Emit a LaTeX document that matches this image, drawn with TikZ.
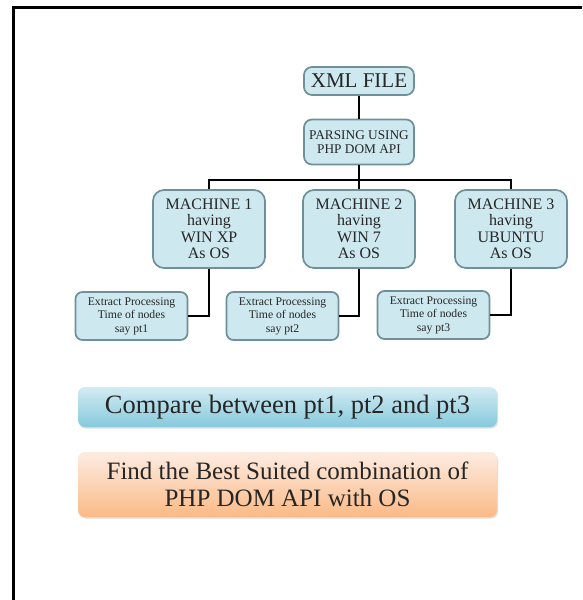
\documentclass[tikz,border=0pt]{standalone}
\usepackage{fontspec}
\setmainfont{Liberation Serif}
\usetikzlibrary{shadows}
\definecolor{boxfill}{HTML}{CDE9EF}
\definecolor{boxdraw}{HTML}{6F9098}
\definecolor{txt}{HTML}{262626}
\definecolor{cmptop}{HTML}{D2ECF3}
\definecolor{cmpbot}{HTML}{86C9DC}
\definecolor{findtop}{HTML}{FDECE2}
\definecolor{findbot}{HTML}{FBBA86}
\begin{document}
\begin{tikzpicture}[x=1pt,y=-1pt,
  box/.style={draw=boxdraw, fill=boxfill, line width=1.7pt, rounded corners=8pt,
    align=center, text=txt, inner sep=0pt},
  machbox/.style={box, minimum width=112pt, minimum height=78pt,
    rounded corners=11pt, font=\fontsize{16}{16.5}\selectfont},
  extbox/.style={box, minimum width=112pt, minimum height=48pt,
    rounded corners=7pt, font=\fontsize{11.7}{13.5}\selectfont},
  bigbox/.style={rounded corners=7pt, align=center, inner sep=0pt,
    minimum width=419pt, drop shadow={shadow xshift=1pt, shadow yshift=-1.5pt, opacity=0.25}},
  conn/.style={line width=2.8pt, black}]
\useasboundingbox (0,0) rectangle (582,600);
\fill[white] (0,0) rectangle (582,600);
\draw[line width=3pt] (13,600) -- (13,7) -- (582,7);

\node[box, minimum width=110pt, minimum height=28pt,
  font=\fontsize{21}{23}\selectfont] (xml) at (359,81) {XML FILE};
\node[box, minimum width=110pt, minimum height=45pt,
  font=\fontsize{13.3}{14.5}\selectfont] (parse) at (359,142) {PARSING USING\\PHP DOM API};

\node[machbox] (m1) at (209,229) {MACHINE 1\\having\\WIN XP\\As OS};
\node[machbox] (m2) at (359,229) {MACHINE 2\\having\\WIN 7\\As OS};
\node[machbox] (m3) at (511,229) {MACHINE 3\\having\\UBUNTU\\As OS};

\node[extbox] (e1) at (131.5,316) {Extract Processing\\Time of nodes\\say pt1};
\node[extbox] (e2) at (282.5,316) {Extract Processing\\Time of nodes\\say pt2};
\node[extbox] (e3) at (433.5,315) {Extract Processing\\Time of nodes\\say pt3};

\coordinate (bus) at (359,180);

\draw[conn] (xml) -- (parse);
\draw[conn] (parse.south) -- (m2.north);
\draw[conn] (m1.north) |- (bus) -| (m3.north);
\draw[conn] (m1.south) |- (e1.east);
\draw[conn] (m2.south) |- (e2.east);
\draw[conn] (m3.south) |- (e3.east);

\node[bigbox, minimum height=40pt, top color=cmptop, bottom color=cmpbot,
  text=txt, font=\fontsize{26.5}{28}\selectfont] (cmp) at (287.5,407)
  {Compare between pt1, pt2 and pt3};
\node[bigbox, minimum height=65pt, top color=findtop, bottom color=findbot,
  text=txt, font=\fontsize{25}{27}\selectfont] (find) at (287.5,484.5)
  {Find the Best Suited combination of\\PHP DOM API with OS};
\end{tikzpicture}
\end{document}
